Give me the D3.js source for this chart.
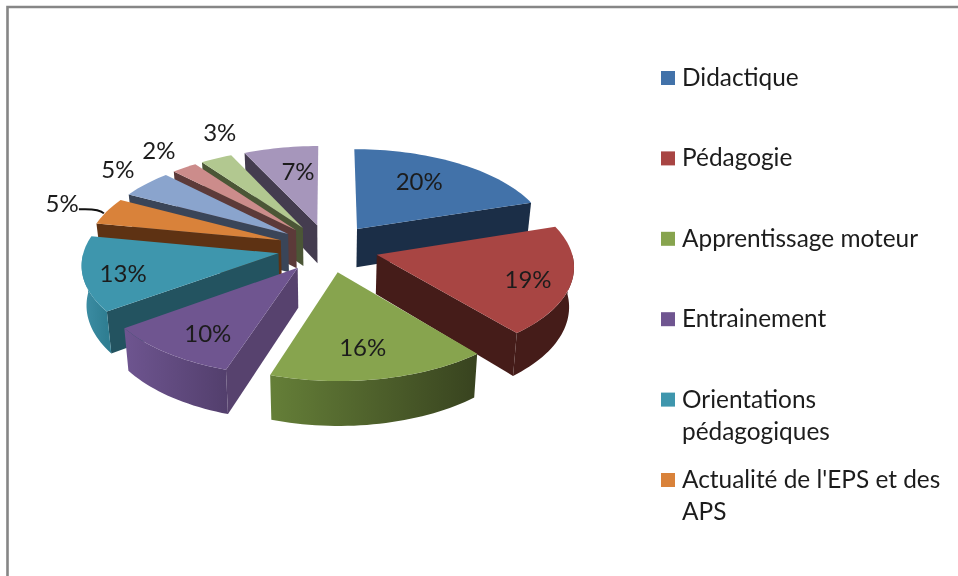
<!DOCTYPE html>
<meta charset="utf-8">
<style>
	html, body { margin: 0; padding: 0; background: #fff; overflow: hidden; }
	svg { display: block; filter: blur(0.45px); }
	text { font-family: Lato, sans-serif; fill: #1c1c1c; }
</style>
<div id="chartBx"></div>
<script src="https://cdnjs.cloudflare.com/ajax/libs/d3/7.8.5/d3.min.js"></script>
<script>
	var values = [20, 19, 16, 10, 13, 4.7, 4.9, 2.4, 3, 7];
	var categories = [
		["Didactique"],
		["Pédagogie"],
		["Apprentissage moteur"],
		["Entrainement"],
		["Orientations", "pédagogiques"],
		["Actualité de l'EPS et des", "APS"]
	];

	// colours: top of slice, cut side, outer wall left / right
	var topColors = ["#4272a9", "#a84543", "#87a44e", "#6f5590", "#3e96ad", "#d9823a", "#8aa4cd", "#cc8c8b", "#b2c890", "#a696bb"];
	var sideColors = ["#1b2e47", "#451c19", "#38421e", "#57426e", "#235360", "#5e3213", "#3a4558", "#5c3a39", "#4b5636", "#443c4f"];
	var wallLeft = ["#1b2e47", "#451c19", "#657f38", "#6e5590", "#3e8fa6", "#5e3213", "#3a4558", "#5c3a39", "#4b5636", "#443c4f"];
	var wallRight = ["#1b2e47", "#451c19", "#38431f", "#533f6d", "#2f7e92", "#5e3213", "#3a4558", "#5c3a39", "#4b5636", "#443c4f"];

	// label placement, radius inside the slice and fine adjustment
	var labelRadius = [0.7, 0.7, 0.7, 0.7, 0.7, 1.25, 1.25, 1.25, 1.25, 0.7];
	var labelShift = [[-10, -1], [16, 6], [-4, 3], [-1, 8], [-19, 6], [-3, -1], [5, -3], [0, -3], [23, -10], [7, 2]];

	var width = 958, height = 576;
	var cx = 328, cy = 248, rx = 194, ry = 92;
	var explode = 0.26, persp = 0.105, depth = 39;

	var svg = d3.select("#chartBx").append("svg")
		.attr("width", width)
		.attr("height", height);

	var defs = svg.append("defs");

	// frame (only top and left are in the picture)
	svg.append("path")
		.attr("d", "M7.5," + height + "V7H" + width)
		.attr("fill", "none")
		.attr("stroke", "#868686")
		.attr("stroke-width", 2.6);

	// u to the right, v to the back, both in pie radius units
	function project(u, v, bottom) {
		var s = 1 / (1 + persp * v);
		if (bottom) {
			return [cx + rx * u * s * 0.98, cy - ry * v * s + depth * s];
		}
		return [cx + rx * u * s, cy - ry * v * s];
	}

	var pie = d3.pie().sort(null).value(function(d) { return d; });
	var slices = pie(values).map(function(d, i) {
		var mid = (d.startAngle + d.endAngle) / 2;
		return {
			i: i,
			value: d.value,
			a0: d.startAngle,
			a1: d.endAngle,
			mid: mid,
			ou: explode * Math.sin(mid),
			ov: explode * Math.cos(mid)
		};
	});

	function rimPoint(s, a, bottom) {
		return project(s.ou + Math.sin(a), s.ov + Math.cos(a), bottom);
	}

	function rimRange(a0, a1) {
		var n = Math.max(2, Math.ceil((a1 - a0) / 0.03));
		return d3.range(n + 1).map(function(k) { return a0 + (a1 - a0) * k / n; });
	}

	var line = d3.line();
	var pieG = svg.append("g").attr("class", "pie");

	// back slices first
	var ordered = slices.slice().sort(function(a, b) { return Math.cos(b.mid) - Math.cos(a.mid); });

	ordered.forEach(function(s) {
		var g = pieG.append("g").attr("class", "slice-" + s.i);
		var apexTop = project(s.ou, s.ov, false);
		var apexBot = project(s.ou, s.ov, true);

		// start side faces the viewer on the left half, end side on the right half
		if (Math.sin(s.a0) < 0) {
			g.append("path")
				.attr("d", line([apexTop, rimPoint(s, s.a0, false), rimPoint(s, s.a0, true), apexBot]) + "Z")
				.attr("fill", sideColors[s.i]);
		}
		if (Math.sin(s.a1) > 0) {
			g.append("path")
				.attr("d", line([apexTop, rimPoint(s, s.a1, false), rimPoint(s, s.a1, true), apexBot]) + "Z")
				.attr("fill", sideColors[s.i]);
		}

		// outer wall, only the part in front
		var w0 = Math.max(s.a0, Math.PI / 2);
		var w1 = Math.min(s.a1, Math.PI * 1.5);
		if (w1 > w0) {
			var angles = rimRange(w0, w1);
			var upper = angles.map(function(a) { return rimPoint(s, a, false); });
			var lower = angles.map(function(a) { return rimPoint(s, a, true); }).reverse();
			var xExt = d3.extent(upper, function(p) { return p[0]; });
			var grad = defs.append("linearGradient")
				.attr("id", "wall" + s.i)
				.attr("gradientUnits", "userSpaceOnUse")
				.attr("x1", xExt[0]).attr("x2", xExt[1])
				.attr("y1", 0).attr("y2", 0);
			grad.append("stop").attr("offset", 0).attr("stop-color", wallLeft[s.i]);
			grad.append("stop").attr("offset", 1).attr("stop-color", wallRight[s.i]);
			g.append("path")
				.attr("d", line(upper.concat(lower)) + "Z")
				.attr("fill", "url(#wall" + s.i + ")");
		}

		// top
		var topPts = [apexTop].concat(rimRange(s.a0, s.a1).map(function(a) { return rimPoint(s, a, false); }));
		g.append("path")
			.attr("d", line(topPts) + "Z")
			.attr("fill", topColors[s.i]);
	});

	// leader line of the first 5%
	var orange = slices[5];
	var leaderEnd = rimPoint(orange, orange.mid, false);
	var leader = d3.path();
	leader.moveTo(leaderEnd[0] - 28, leaderEnd[1] - 2);
	leader.quadraticCurveTo(leaderEnd[0] - 8, leaderEnd[1] - 3, leaderEnd[0] - 3, leaderEnd[1] + 2);
	svg.append("path")
		.attr("d", leader.toString())
		.attr("fill", "none")
		.attr("stroke", "#111")
		.attr("stroke-width", 2);

	// percent labels
	svg.append("g").attr("class", "labels")
		.selectAll("text")
		.data(slices)
		.enter().append("text")
			.attr("text-anchor", "middle")
			.attr("dy", "0.36em")
			.attr("font-size", 24)
			.attr("x", function(s) {
				var r = labelRadius[s.i];
				return project(s.ou + r * Math.sin(s.mid), s.ov + r * Math.cos(s.mid))[0] + labelShift[s.i][0];
			})
			.attr("y", function(s) {
				var r = labelRadius[s.i];
				return project(s.ou + r * Math.sin(s.mid), s.ov + r * Math.cos(s.mid))[1] + labelShift[s.i][1];
			})
			.text(function(s) { return Math.round(s.value) + "%"; });

	// legend
	var legendY = d3.scaleLinear().domain([0, 5]).range([85, 487]);
	var legend = svg.append("g").attr("class", "legend");

	categories.forEach(function(lines, i) {
		legend.append("rect")
			.attr("x", 661)
			.attr("y", legendY(i) - 14)
			.attr("width", 14)
			.attr("height", 14)
			.attr("fill", topColors[i]);
		lines.forEach(function(t, k) {
			legend.append("text")
				.attr("x", 682)
				.attr("y", legendY(i) + 1 + k * 32)
				.attr("font-size", 24.4)
				.text(t);
		});
	});
</script>
